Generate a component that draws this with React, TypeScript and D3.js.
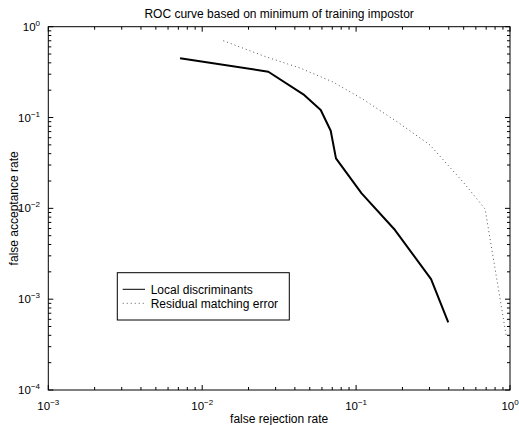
import React from "react";
import * as d3 from "d3";

const W = 519;
const H = 425;

const titleText = "ROC curve based on minimum of training impostor";
const xLabel = "false rejection rate";
const yLabel = "false acceptance rate";

const seriesNames = ["Local discriminants", "Residual matching error"];

const localFRR = [0.00718, 0.0269, 0.0454, 0.0589, 0.0684, 0.074, 0.1086, 0.179, 0.307, 0.397];
const localFAR = [0.449, 0.3194, 0.18, 0.121, 0.0716, 0.0355, 0.01463, 0.00577, 0.00166, 0.000555];

const resFRR = [0.01371, 0.0256, 0.0432, 0.0708, 0.111, 0.1845, 0.302, 0.502, 0.689, 0.948];
const resFAR = [0.701, 0.47, 0.351, 0.246, 0.1586, 0.0899, 0.0498, 0.019, 0.00984, 0.000383];

const xDecades = [-3, -2, -1, 0];
const yDecades = [-4, -3, -2, -1, 0];

const FONT = "'Liberation Sans', Arial, Helvetica, sans-serif";

export default function App() {
  const left = 48.3, right = 510, top = 26.7, bottom = 390;
  const x = d3.scaleLog().domain([1e-3, 1]).range([left, right]);
  const y = d3.scaleLog().domain([1e-4, 1]).range([bottom, top]);

  const line = d3
    .line<[number, number]>()
    .x((d) => x(d[0]))
    .y((d) => y(d[1]));

  const localData: [number, number][] = localFRR.map((v, i) => [v, localFAR[i]]);
  const resData: [number, number][] = resFRR.map((v, i) => [v, resFAR[i]]);

  const minorOf = (decades: number[]) => {
    const out: { v: number; major: boolean }[] = [];
    decades.forEach((e, idx) => {
      out.push({ v: Math.pow(10, e), major: true });
      if (idx < decades.length - 1) {
        for (let k = 2; k <= 9; k++) out.push({ v: k * Math.pow(10, e), major: false });
      }
    });
    return out;
  };
  const xTicks = minorOf(xDecades);
  const yTicks = minorOf(yDecades);
  const majLen = 5, minLen = 3;

  const lx = 117.3, ly = 272.7, lw = 172, lh = 47.3;
  const expLabel = (e: number) => (e === 0 ? "0" : "\u2212" + String(-e));

  return (
    <div style={{ position: "absolute", left: 0, top: 0 }}>
      <svg width={W} height={H} style={{ display: "block", background: "#fff" }} fontFamily={FONT}>
        <rect x={0} y={0} width={W} height={H} fill="#fff" />
        {/* ticks */}
        {xTicks.map((t, i) => {
          const px = x(t.v);
          const len = t.major ? majLen : minLen;
          return (
            <g key={"xt" + i} stroke="#000" strokeWidth={1}>
              <line x1={px} x2={px} y1={bottom} y2={bottom - len} />
              <line x1={px} x2={px} y1={top} y2={top + len} />
            </g>
          );
        })}
        {yTicks.map((t, i) => {
          const py = y(t.v);
          const len = t.major ? majLen : minLen;
          return (
            <g key={"yt" + i} stroke="#000" strokeWidth={1}>
              <line x1={left} x2={left + len} y1={py} y2={py} />
              <line x1={right} x2={right - len} y1={py} y2={py} />
            </g>
          );
        })}
        <rect x={left} y={top} width={right - left} height={bottom - top} fill="none" stroke="#000" strokeWidth={1} />

        {/* x tick labels */}
        {xDecades.map((e) => (
          <text key={"xl" + e} x={x(Math.pow(10, e))} y={410} textAnchor="middle" fontSize={11.5} fill="#000">
            10
            <tspan dy={-5} fontSize={8}>{expLabel(e)}</tspan>
          </text>
        ))}
        {/* y tick labels */}
        {yDecades.map((e) => (
          <text key={"yl" + e} x={40} y={y(Math.pow(10, e)) + 4} textAnchor="end" fontSize={11.5} fill="#000">
            10
            <tspan dy={-5} fontSize={8}>{expLabel(e)}</tspan>
          </text>
        ))}

        {/* lines */}
        <path d={line(resData) || ""} fill="none" stroke="#555" strokeWidth={1} strokeDasharray="1,3" />
        <path d={line(localData) || ""} fill="none" stroke="#000" strokeWidth={2} strokeLinejoin="round" />

        {/* legend */}
        <rect x={lx} y={ly} width={lw} height={lh} fill="#fff" stroke="#000" strokeWidth={1} />
        <line x1={122.7} x2={145} y1={289.3} y2={289.3} stroke="#000" strokeWidth={1} />
        <line x1={122.7} x2={145} y1={303.3} y2={303.3} stroke="#555" strokeWidth={1} strokeDasharray="1,3" />
        <text x={150.7} y={293.6} fontSize={12} fill="#000">{seriesNames[0]}</text>
        <text x={150.7} y={307.6} fontSize={12} fill="#000">{seriesNames[1]}</text>

        {/* title and labels */}
        <text x={(left + right) / 2} y={17.5} textAnchor="middle" fontSize={12} fill="#000">{titleText}</text>
        <text x={(left + right) / 2} y={423} textAnchor="middle" fontSize={12} fill="#000">{xLabel}</text>
        <text
          transform={`translate(18,${(top + bottom) / 2}) rotate(-90)`}
          textAnchor="middle"
          fontSize={12}
          fill="#000"
        >
          {yLabel}
        </text>
      </svg>
    </div>
  );
}
